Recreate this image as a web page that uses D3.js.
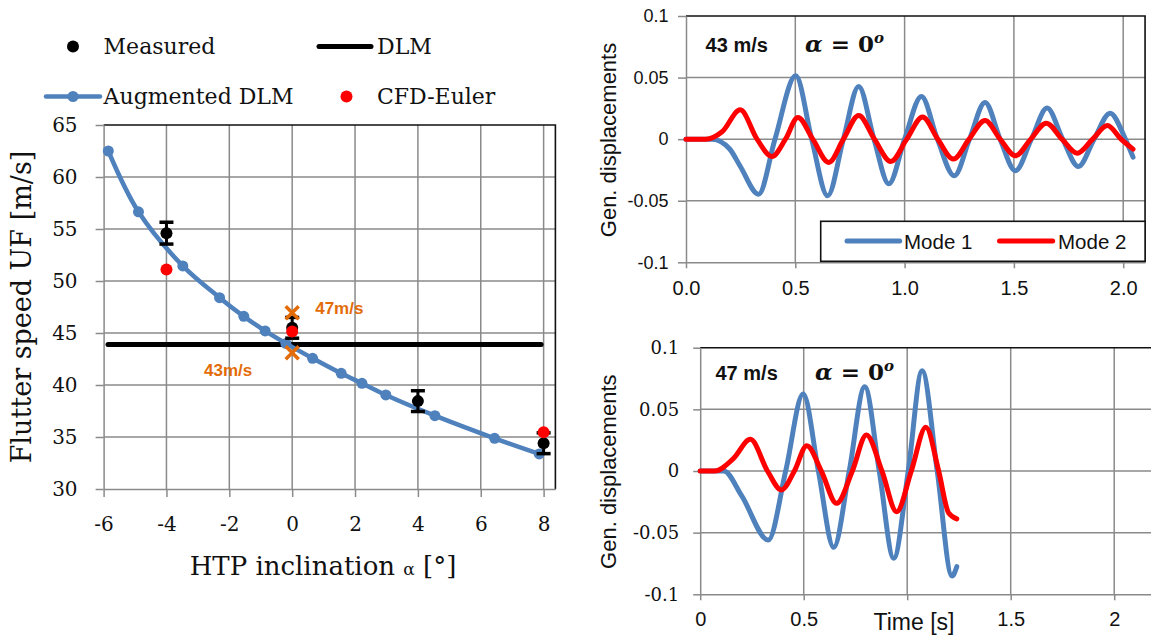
<!DOCTYPE html>
<html><head><meta charset="utf-8">
<script src="https://cdn.jsdelivr.net/npm/d3@7"></script>
<style>body{margin:0;background:#fff;} svg{display:block;}</style>
</head><body>
<svg id="c" width="1151" height="636"></svg>
<script>
// ---------- DATA ----------
// Left chart: flutter speed vs HTP inclination
const augAlpha = [-5.85, -4.89, -3.48, -2.31, -1.54, -0.86, -0.2, 0.65, 1.56, 2.22, 2.98, 4.54, 6.44, 7.86];
const augUF    = [62.5, 56.65, 51.45, 48.4, 46.6, 45.2, 44.0, 42.57, 41.12, 40.16, 39.04, 37.05, 34.87, 33.37];
const measAlpha = [-4, 0, 4, 8];
const measUF    = [54.6, 45.5, 38.45, 34.4];
const measErr   = [1.05, 1.0, 1.0, 1.0];
const cfdAlpha = [-4, 0, 8];
const cfdUF    = [51.1, 45.15, 35.45];
const dlmAlpha = [-5.86, 7.92];
const dlmUF    = [43.9, 43.9];
const markAlpha  = [0, 0];
const markUF     = [46.95, 43.1];
const markLabels = ["47m/s", "43m/s"];
const leftXTicks = [-6, -4, -2, 0, 2, 4, 6, 8];
const leftYTicks = [30, 35, 40, 45, 50, 55, 60, 65];
const legendLeft = ["Measured", "DLM", "Augmented DLM", "CFD-Euler"];

// Top right: 43 m/s time response
const t43m1 = [0, 0.12, 0.2, 0.248, 0.332, 0.407, 0.502, 0.575, 0.648, 0.72, 0.79, 0.86, 0.928, 1.0, 1.077, 1.15, 1.227, 1.297, 1.368, 1.437, 1.507, 1.58, 1.652, 1.723, 1.795, 1.867, 1.94, 2.01, 2.045];
const v43m1 = [0, 0, -0.008, -0.022, -0.0447, 0, 0.0514, 0, -0.046, 0, 0.0428, 0, -0.0363, 0, 0.0346, 0, -0.0298, 0, 0.0298, 0, -0.0257, 0, 0.0252, 0, -0.0222, 0, 0.0211, 0, -0.0146];
const t43m2 = [0, 0.09, 0.165, 0.248, 0.325, 0.393, 0.455, 0.512, 0.58, 0.653, 0.72, 0.79, 0.862, 0.937, 1.01, 1.082, 1.152, 1.223, 1.295, 1.368, 1.437, 1.507, 1.577, 1.648, 1.72, 1.79, 1.86, 1.928, 1.99, 2.045];
const v43m2 = [0, 0, 0.006, 0.0238, 0, -0.0141, 0, 0.0176, 0, -0.0189, 0, 0.0192, 0, -0.0181, 0, 0.0179, 0, -0.0162, 0, 0.0152, 0, -0.0135, 0, 0.013, 0, -0.0114, 0, 0.0111, 0, -0.0081];

// Bottom right: 47 m/s time response
const t47m1 = [0, 0.114, 0.2, 0.329, 0.413, 0.4975, 0.571, 0.645, 0.72, 0.795, 0.865, 0.935, 1.005, 1.072, 1.145, 1.2166, 1.2395];
const v47m1 = [0, 0, -0.02, -0.056, 0, 0.0624, 0, -0.0619, 0, 0.0684, 0, -0.0708, 0, 0.0814, 0, -0.0852, -0.0776];
const t47m2 = [0, 0.07, 0.16, 0.2426, 0.325, 0.392, 0.455, 0.515, 0.585, 0.659, 0.735, 0.803, 0.878, 0.949, 1.02, 1.09, 1.152, 1.2, 1.2395];
const v47m2 = [0, 0, 0.01, 0.0257, 0, -0.0154, 0, 0.0205, 0, -0.0262, 0, 0.0292, 0, -0.033, 0, 0.0354, 0, -0.034, -0.0389];

const yTicksR = [-0.1, -0.05, 0, 0.05, 0.1];
const xTicksTop = [0, 0.5, 1.0, 1.5, 2.0];
const xTickLabelsTop = ["0.0", "0.5", "1.0", "1.5", "2.0"];
const xTicksBot = [0, 0.5, 1, 1.5, 2];
const xTickLabelsBot = ["0", "0.5", "", "1.5", "2"];
const yTickLabelsTop = ["-0.1", "-0.05", "0", "0.05", "0.1"];
const legendRight = ["Mode 1", "Mode 2"];

// ---------- STYLE ----------
const GRID = "#8a8a8a";
const BLUE = "#4f81bd";
const RED = "#ff0000";
const ORANGE = "#e36c09";
const SERIF = "DejaVu Serif";
const SANS = "Liberation Sans";

const svg = d3.select("#c");

// ================= LEFT CHART =================
const xL = d3.scaleLinear().domain([-6, 8.375]).range([103.6, 555.4]);
const yL = d3.scaleLinear().domain([30, 65]).range([489, 125]);
const L = svg.append("g");

// grid
L.append("g").selectAll("line").data(leftXTicks.slice(1)).join("line")
  .attr("x1", d => xL(d)).attr("x2", d => xL(d)).attr("y1", yL(30)).attr("y2", yL(65))
  .attr("stroke", GRID).attr("stroke-width", 1.5);
L.append("g").selectAll("line").data(leftYTicks.slice(1, -1)).join("line")
  .attr("x1", xL(-6)).attr("x2", xL(8.375)).attr("y1", d => yL(d)).attr("y2", d => yL(d))
  .attr("stroke", GRID).attr("stroke-width", 1.5);
// frame top/right
L.append("path").attr("d", `M${xL(-6)},${yL(65)}H${xL(8.375)}V${yL(30)}`)
  .attr("fill", "none").attr("stroke", "#111").attr("stroke-width", 1.6);

// axes
const axLY = L.append("g").attr("transform", `translate(${xL(-6)},0)`)
  .call(d3.axisLeft(yL).tickValues(leftYTicks).tickSize(8).tickSizeOuter(0).tickPadding(18));
const axLX = L.append("g").attr("transform", `translate(0,${yL(30)})`)
  .call(d3.axisBottom(xL).tickValues(leftXTicks).tickFormat(d => String(d)).tickSize(8).tickSizeOuter(0).tickPadding(20));
[axLY, axLX].forEach(a => {
  a.selectAll("path,line").attr("stroke", GRID).attr("stroke-width", 1.5);
  a.selectAll("text").attr("font-family", SERIF).attr("font-size", 20).attr("fill", "#111");
});

// DLM line
L.append("path").datum(dlmAlpha.map((a, i) => [a, dlmUF[i]]))
  .attr("d", d3.line().x(d => xL(d[0])).y(d => yL(d[1])))
  .attr("stroke", "#000").attr("stroke-width", 5).attr("stroke-linecap", "round").attr("fill", "none");

// Augmented DLM
const aug = augAlpha.map((a, i) => [a, augUF[i]]);
L.append("path").datum(aug)
  .attr("d", d3.line().x(d => xL(d[0])).y(d => yL(d[1])).curve(d3.curveCatmullRom))
  .attr("stroke", BLUE).attr("stroke-width", 4.5).attr("fill", "none").attr("stroke-linecap", "round");
L.append("g").selectAll("circle").data(aug).join("circle")
  .attr("cx", d => xL(d[0])).attr("cy", d => yL(d[1])).attr("r", 5.5).attr("fill", BLUE);

// Measured with error bars
const meas = measAlpha.map((a, i) => ({a, v: measUF[i], e: measErr[i]}));
const mg = L.append("g");
mg.selectAll("line.v").data(meas).join("line")
  .attr("x1", d => xL(d.a)).attr("x2", d => xL(d.a)).attr("y1", d => yL(d.v + d.e)).attr("y2", d => yL(d.v - d.e))
  .attr("stroke", "#000").attr("stroke-width", 3);
mg.selectAll("line.t").data(meas).join("line")
  .attr("x1", d => xL(d.a) - 7).attr("x2", d => xL(d.a) + 7).attr("y1", d => yL(d.v + d.e)).attr("y2", d => yL(d.v + d.e))
  .attr("stroke", "#000").attr("stroke-width", 3.5);
mg.selectAll("line.b").data(meas).join("line")
  .attr("x1", d => xL(d.a) - 7).attr("x2", d => xL(d.a) + 7).attr("y1", d => yL(d.v - d.e)).attr("y2", d => yL(d.v - d.e))
  .attr("stroke", "#000").attr("stroke-width", 3.5);
mg.selectAll("circle").data(meas).join("circle")
  .attr("cx", d => xL(d.a)).attr("cy", d => yL(d.v)).attr("r", 6).attr("fill", "#000");

// CFD-Euler
L.append("g").selectAll("circle").data(cfdAlpha.map((a, i) => [a, cfdUF[i]])).join("circle")
  .attr("cx", d => xL(d[0])).attr("cy", d => yL(d[1])).attr("r", 6).attr("fill", RED);

// Orange X markers + labels
const marks = markAlpha.map((a, i) => ({a, v: markUF[i], lab: markLabels[i]}));
L.append("g").selectAll("path").data(marks).join("path")
  .attr("d", d => { const x = xL(d.a), y = yL(d.v), s = 6.5; return `M${x-s},${y-s}L${x+s},${y+s}M${x+s},${y-s}L${x-s},${y+s}`; })
  .attr("stroke", ORANGE).attr("stroke-width", 3.5).attr("fill", "none");
L.append("g").selectAll("text").data(marks).join("text")
  .attr("x", (d, i) => i === 0 ? xL(d.a) + 23 : xL(d.a) - 40)
  .attr("y", (d, i) => i === 0 ? yL(d.v) + 1 : yL(d.v) + 23)
  .attr("text-anchor", (d, i) => i === 0 ? "start" : "end")
  .attr("font-family", SANS).attr("font-weight", "bold").attr("font-size", 17).attr("fill", ORANGE)
  .text(d => d.lab);

// axis titles
L.append("text").attr("x", 323).attr("y", 575).attr("text-anchor", "middle")
  .attr("font-family", SERIF).attr("font-size", 26).attr("fill", "#111")
  .call(t => { t.append("tspan").text("HTP inclination "); t.append("tspan").attr("font-size", 17).text("α"); t.append("tspan").text(" [°]"); });
L.append("text").attr("transform", "translate(31,307) rotate(-90)").attr("text-anchor", "middle")
  .attr("font-family", SERIF).attr("font-size", 27).attr("fill", "#111").text("Flutter speed UF [m/s]");

// legend
const lg = L.append("g").attr("font-family", SERIF).attr("font-size", 22).attr("fill", "#111");
lg.append("circle").attr("cx", 73).attr("cy", 46.5).attr("r", 6).attr("fill", "#000");
lg.append("text").attr("x", 103.6).attr("y", 54).text(legendLeft[0]);
lg.append("line").attr("x1", 319).attr("x2", 371).attr("y1", 46.5).attr("y2", 46.5).attr("stroke", "#000").attr("stroke-width", 5).attr("stroke-linecap", "round");
lg.append("text").attr("x", 377).attr("y", 54).text(legendLeft[1]);
lg.append("line").attr("x1", 46).attr("x2", 100).attr("y1", 96.5).attr("y2", 96.5).attr("stroke", BLUE).attr("stroke-width", 4.5).attr("stroke-linecap", "round");
lg.append("circle").attr("cx", 73).attr("cy", 96.5).attr("r", 5.5).attr("fill", BLUE);
lg.append("text").attr("x", 103.6).attr("y", 104).text(legendLeft[2]);
lg.append("circle").attr("cx", 346.5).attr("cy", 96.5).attr("r", 6).attr("fill", RED);
lg.append("text").attr("x", 377).attr("y", 104).text(legendLeft[3]);

// ================= RIGHT CHARTS =================
function timeChart(cfg) {
  const g = svg.append("g");
  const x = cfg.x, y = cfg.y;
  const [x0, x1] = x.range();
  // grid
  g.append("g").selectAll("line").data(cfg.xTicks.slice(1)).join("line")
    .attr("x1", d => x(d)).attr("x2", d => x(d)).attr("y1", y(-0.1)).attr("y2", y(0.1))
    .attr("stroke", GRID).attr("stroke-width", 1.5);
  g.append("g").selectAll("line").data(yTicksR.slice(1, -1)).join("line")
    .attr("x1", x0).attr("x2", x1).attr("y1", d => y(d)).attr("y2", d => y(d))
    .attr("stroke", GRID).attr("stroke-width", 1.5);
  g.append("path").attr("d", `M${x0},${y(0.1)}H${x1}V${y(-0.1)}`)
    .attr("fill", "none").attr("stroke", "#111").attr("stroke-width", 1.6);
  const ay = g.append("g").attr("transform", `translate(${x0},0)`)
    .call(d3.axisLeft(y).tickValues(yTicksR).tickFormat((d, i) => yTickLabelsTop[i]).tickSize(cfg.yTick).tickSizeOuter(0).tickPadding(cfg.yPad));
  const ax = g.append("g").attr("transform", `translate(0,${y(-0.1)})`)
    .call(d3.axisBottom(x).tickValues(cfg.xTicks).tickFormat((d, i) => cfg.xLabels[i]).tickSize(6).tickSizeOuter(0).tickPadding(cfg.xPad));
  [ay, ax].forEach(a => a.selectAll("path,line").attr("stroke", GRID).attr("stroke-width", 1.5));
  ay.selectAll("text").attr("font-family", cfg.yFont).attr("font-size", cfg.yFontSize).attr("fill", "#111");
  ax.selectAll("text").attr("font-family", SANS).attr("font-size", 20).attr("fill", "#111");

  const line = d3.line().x(d => x(d[0])).y(d => y(d[1])).curve(d3.curveMonotoneX);
  g.append("path").datum(cfg.m1).attr("d", line).attr("stroke", BLUE).attr("stroke-width", 5)
    .attr("fill", "none").attr("stroke-linecap", "round").attr("stroke-linejoin", "round");
  g.append("path").datum(cfg.m2).attr("d", line).attr("stroke", RED).attr("stroke-width", 5)
    .attr("fill", "none").attr("stroke-linecap", "round").attr("stroke-linejoin", "round");

  // y title
  g.append("text").attr("transform", `translate(616,${cfg.yTitleC}) rotate(-90)`).attr("text-anchor", "middle")
    .attr("font-family", SANS).attr("font-size", 22).attr("fill", "#111").text("Gen. displacements");
  // annotation
  g.append("text").attr("x", cfg.annX).attr("y", cfg.annY).attr("font-family", SANS).attr("font-weight", "bold")
    .attr("font-size", 20).attr("fill", "#111").text(cfg.speed);
  const m = g.append("text").attr("x", cfg.alphaX).attr("y", cfg.annY).attr("font-family", SERIF)
    .attr("font-weight", "bold").attr("font-size", 23).attr("fill", "#111");
  m.append("tspan").attr("font-style", "italic").text("α");
  m.append("tspan").text(" = 0");
  m.append("tspan").attr("font-style", "italic").attr("font-size", 15).attr("dy", -9).text("o");
  return g;
}

const xT = d3.scaleLinear().domain([0, 2.1]).range([686, 686 + 2.1 * 218.6]);
const yT = d3.scaleLinear().domain([-0.1, 0.1]).range([262.3, 16]);
const gT = timeChart({
  x: xT, y: yT, xTicks: xTicksTop, xLabels: xTickLabelsTop, yTick: 8, yPad: 9.5, xPad: 13,
  yFont: SANS, yFontSize: 18,
  m1: t43m1.map((t, i) => [t, v43m1[i]]), m2: t43m2.map((t, i) => [t, v43m2[i]]),
  yTitleC: 140, annX: 705.6, annY: 52, alphaX: 805, speed: "43 m/s"
});
// legend top chart
const lgR = gT.append("g");
lgR.append("rect").attr("x", 820.7).attr("y", 221.3).attr("width", 1145.1 - 820.7).attr("height", 40)
  .attr("fill", "#fff").attr("stroke", "#111").attr("stroke-width", 1.6);
[[847, 899.7, BLUE, 904], [999.5, 1052.7, RED, 1058]].forEach((c, i) => {
  lgR.append("line").attr("x1", c[0]).attr("x2", c[1]).attr("y1", 241).attr("y2", 241)
    .attr("stroke", c[2]).attr("stroke-width", 5).attr("stroke-linecap", "round");
  lgR.append("text").attr("x", c[3]).attr("y", 248.5).attr("font-family", SANS).attr("font-size", 20.5)
    .attr("fill", "#111").text(legendRight[i]);
});

const xB = d3.scaleLinear().domain([0, 2.5]).range([700.2, 700.2 + 2.5 * 207]);
const yB = d3.scaleLinear().domain([-0.1, 0.1]).range([594.3, 347.7]);
timeChart({
  x: xB, y: yB, xTicks: xTicksBot, xLabels: xTickLabelsBot, yTick: 7, yPad: 14, xPad: 12,
  yFont: SERIF, yFontSize: 18,
  m1: t47m1.map((t, i) => [t, v47m1[i]]), m2: t47m2.map((t, i) => [t, v47m2[i]]),
  yTitleC: 471.7, annX: 715.5, annY: 380, alphaX: 815, speed: "47 m/s"
});
svg.append("text").attr("x", 914).attr("y", 630).attr("text-anchor", "middle")
  .attr("font-family", SANS).attr("font-size", 23).attr("fill", "#111").text("Time [s]");
</script>
</body></html>
